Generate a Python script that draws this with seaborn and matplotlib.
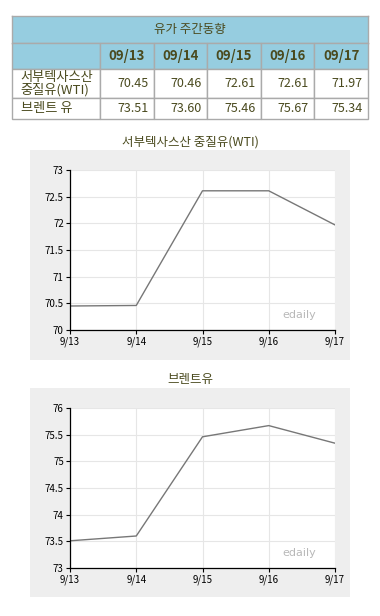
import matplotlib
matplotlib.use("Agg")
import matplotlib.pyplot as plt
import seaborn as sns
import pandas as pd

sns.set_theme(style="white")
plt.rcParams['font.family'] = ['Noto Sans CJK KR', 'DejaVu Sans']

# ---- data ----
table_title = "유가 주간동향"
dates_table = ["09/13", "09/14", "09/15", "09/16", "09/17"]
dates_chart = ["9/13", "9/14", "9/15", "9/16", "9/17"]
row_labels = ["서부텍사스산\n중질유(WTI)", "브렌트 유"]
wti_values = [70.45, 70.46, 72.61, 72.61, 71.97]
brent_values = [73.51, 73.60, 75.46, 75.67, 75.34]
chart_titles = ["서부텍사스산 중질유(WTI)", "브렌트유"]
wti_ticks = [70, 70.5, 71, 71.5, 72, 72.5, 73]
brent_ticks = [73, 73.5, 74, 74.5, 75, 75.5, 76]
watermark = "edaily"

W, H = 380, 616
fig = plt.figure(figsize=(W / 100, H / 100), dpi=100)
fig.patch.set_facecolor("white")

def frac(x0, y0, x1, y1):
    return [x0 / W, 1 - y1 / H, (x1 - x0) / W, (y1 - y0) / H]

text_color = "#4a4a1e"
head_bg = "#96cde0"
edge = "#aaaaaa"

# ---- table title row ----
hax = fig.add_axes(frac(12, 16, 368, 43))
hax.set_facecolor(head_bg)
hax.set_xticks([]); hax.set_yticks([])
for s in hax.spines.values():
    s.set_color(edge)
    s.set_linewidth(1.0)
hax.text(0.5, 0.5, table_title, transform=hax.transAxes, ha="center",
         va="center", fontsize=9, color=text_color)

# ---- table body ----
tax = fig.add_axes(frac(12, 43, 368, 119))
tax.axis("off")
cell_text = [[""] + dates_table,
             [row_labels[0]] + [f"{v:.2f}" for v in wti_values],
             [row_labels[1]] + [f"{v:.2f}" for v in brent_values]]
tbl = tax.table(cellText=cell_text, bbox=[0, 0, 1, 1], cellLoc="center")
tbl.auto_set_font_size(False)
col_w = [88] + [53.6] * 5
row_h = [26, 29, 21]
for (r, c), cell in tbl.get_celld().items():
    cell.set_width(col_w[c])
    cell.set_height(row_h[r])
    cell.set_edgecolor(edge)
    cell.set_linewidth(1.0)
    t = cell.get_text()
    t.set_color(text_color)
    t.set_fontsize(9)
    if r == 0:
        cell.set_facecolor(head_bg)
        t.set_fontweight("bold")
        t.set_fontsize(9.5)
    else:
        cell.set_facecolor("white")
        if c == 0:
            cell._loc = "left"
            t.set_ha("left")
            t.set_linespacing(0.95)
            t.set_fontsize(9.5)
        else:
            cell._loc = "right"
            t.set_ha("right")

# ---- charts ----
def draw_chart(bg_box, ax_box, title, title_y, values, ticks):
    bg = fig.add_axes(frac(*bg_box))
    bg.set_facecolor("#eeeeee")
    bg.set_xticks([]); bg.set_yticks([])
    for s in bg.spines.values():
        s.set_visible(False)
    fig.text(0.5, 1 - title_y / H, title, ha="center", va="center",
             fontsize=9, color=text_color)
    ax = fig.add_axes(frac(*ax_box))
    df = pd.DataFrame({"date": dates_chart, "value": values})
    sns.lineplot(data=df, x="date", y="value", ax=ax, color="#777777",
                 linewidth=1.0, sort=False)
    ax.set_facecolor("white")
    ax.set_xlim(0, len(dates_chart) - 1)
    ax.set_ylim(ticks[0], ticks[-1])
    ax.set_yticks(ticks)
    ax.set_yticklabels([f"{t:g}" for t in ticks])
    ax.set_xlabel(""); ax.set_ylabel("")
    ax.grid(True, color="#e6e6e6", linewidth=0.8)
    ax.set_axisbelow(True)
    for side in ["top", "right"]:
        ax.spines[side].set_visible(False)
    for side in ["left", "bottom"]:
        ax.spines[side].set_color("black")
        ax.spines[side].set_linewidth(0.9)
    ax.tick_params(axis="both", which="both", direction="out", length=3,
                   width=0.8, color="black", labelsize=7, labelcolor="black",
                   pad=1.5, left=True, bottom=True)
    ax.text(0.93, 0.06, watermark, transform=ax.transAxes, ha="right",
            va="bottom", fontsize=8, color="#b8b8b8",
            family=["DejaVu Sans"])
    return ax

draw_chart((30, 150, 350, 360), (70, 170, 335, 330), chart_titles[0], 142,
           wti_values, wti_ticks)
draw_chart((30, 388, 350, 597), (70, 408, 335, 568), chart_titles[1], 380,
           brent_values, brent_ticks)

fig.savefig("out.png", dpi=100)
